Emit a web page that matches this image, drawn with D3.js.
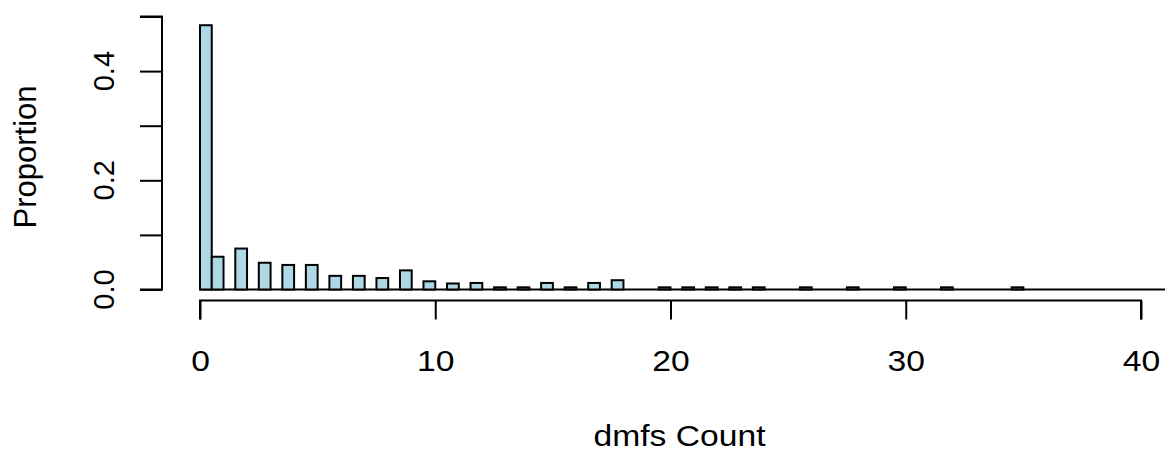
<!DOCTYPE html>
<html>
<head>
<meta charset="utf-8">
<script src="https://cdn.jsdelivr.net/npm/d3@7"></script>
<style>
  html, body { margin: 0; padding: 0; background: #fff; }
  text { font-family: "Liberation Sans", Arial, sans-serif; fill: #000; }
</style>
</head>
<body>
<svg id="chart" width="1165" height="454"></svg>
<script>
const dmfsValues = [0, 1, 2, 3, 4, 5, 6, 7, 8, 9, 10, 11, 12, 13, 14, 15, 16, 17, 18,
  20, 21, 22, 23, 24, 26, 28, 30, 32, 35];
const proportions = [0.484, 0.060, 0.075, 0.049, 0.045, 0.045, 0.025, 0.025, 0.021, 0.035,
  0.015, 0.011, 0.012, 0.004, 0.004, 0.012, 0.004, 0.012, 0.017,
  0.004, 0.004, 0.004, 0.004, 0.004, 0.004, 0.004, 0.004, 0.004, 0.004];
const xTicks = [0, 10, 20, 30, 40];
const yTicks = [0, 0.1, 0.2, 0.3, 0.4, 0.5];
const yLabels = [0, 0.2, 0.4];

const svg = d3.select('#chart');
const x = d3.scaleLinear().domain([0, 40]).range([200, 1141]);
const y = d3.scaleLinear().domain([0, 0.5]).range([289.5, 16.5]);
const stretch = 1.16;

// bins are half a unit wide: [0,0.5] for zero, (k-0.5,k] otherwise
const bins = dmfsValues.map((v, i) => ({
  x0: v === 0 ? 0 : v - 0.5,
  x1: v === 0 ? 0.5 : v,
  p: proportions[i]
}));

svg.append('line')
  .attr('x1', x(0)).attr('x2', 1165)
  .attr('y1', y(0)).attr('y2', y(0))
  .attr('stroke', '#000').attr('stroke-width', 2);

svg.selectAll('rect.bar')
  .data(bins)
  .enter().append('rect')
  .attr('class', 'bar')
  .attr('x', d => x(d.x0))
  .attr('y', d => y(d.p))
  .attr('width', d => x(d.x1) - x(d.x0))
  .attr('height', d => y(0) - y(d.p))
  .attr('fill', '#ADD8E6')
  .attr('stroke', '#000')
  .attr('stroke-width', 2);

// x axis, R style
const xAxis = d3.axisBottom(x).tickValues(xTicks).tickSize(19).tickPadding(0).tickFormat(d3.format('d'));
const gx = svg.append('g').attr('transform', 'translate(0,300.5)').call(xAxis);
gx.select('.domain').attr('stroke-width', 2).attr('d', `M${x(0)},19V0H${x(40)}V19`);
gx.selectAll('.tick line').attr('stroke-width', 2);
gx.selectAll('.tick text')
  .attr('y', null).attr('dy', null)
  .attr('font-size', 29)
  .attr('transform', `translate(0,70) scale(${stretch},1)`);

// y axis
const yAxis = d3.axisLeft(y).tickValues(yTicks).tickSize(22).tickFormat('');
const gy = svg.append('g').attr('transform', 'translate(162,0)').call(yAxis);
gy.select('.domain').attr('stroke-width', 2).attr('d', `M-22,${y(0.5)}H0V${y(0)}H-22`);
gy.selectAll('.tick line').attr('stroke-width', 2);

svg.selectAll('text.ylab')
  .data(yLabels)
  .enter().append('text')
  .attr('class', 'ylab')
  .attr('font-size', 29)
  .attr('text-anchor', 'middle')
  .attr('transform', d => `translate(114,${y(d)}) rotate(-90)`)
  .text(d3.format('.1f'));

svg.append('text')
  .attr('font-size', 29)
  .attr('text-anchor', 'middle')
  .attr('transform', `translate(${(x(0) + x(40)) / 2 + 9},446) scale(${stretch},1)`)
  .text('dmfs Count');

svg.append('text')
  .attr('font-size', 31)
  .attr('text-anchor', 'middle')
  .attr('transform', `translate(36,157) rotate(-90)`)
  .text('Proportion');
</script>
</body>
</html>
